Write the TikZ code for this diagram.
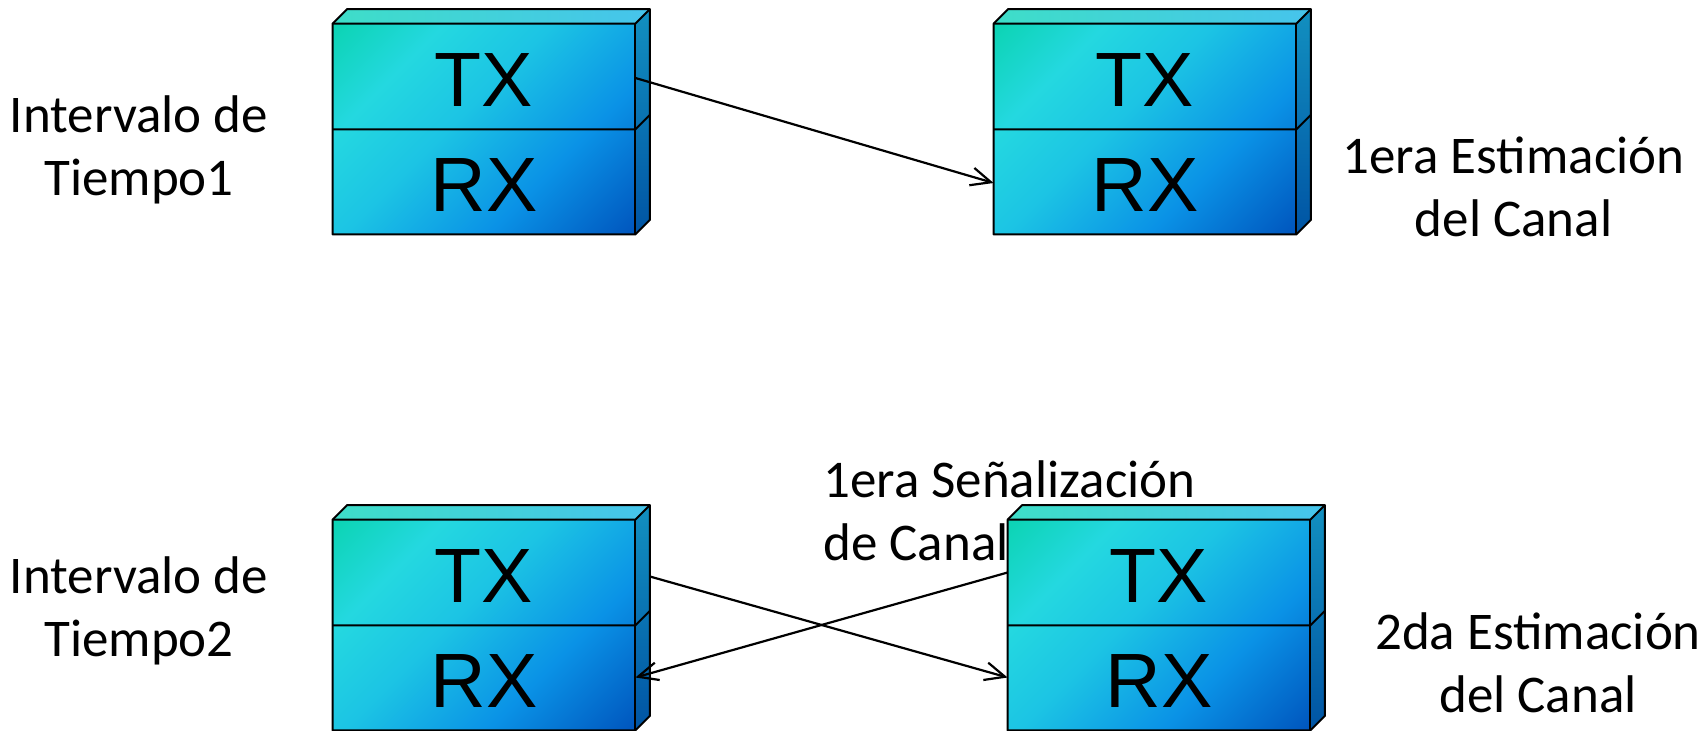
\documentclass[tikz,border=0pt]{standalone}
\usepackage{fontspec}
\setmainfont{Carlito}
\newfontfamily\arialf{Liberation Sans}
\usetikzlibrary{arrows.meta,calc,backgrounds}
\definecolor{cA}{HTML}{0CD4B4}
\definecolor{cB2}{HTML}{24D8E0}
\definecolor{cB}{HTML}{1CC4E4}
\definecolor{cC}{HTML}{0A92E6}
\definecolor{cD}{HTML}{0056BE}
\definecolor{topL}{HTML}{3EDEC8}
\definecolor{topR}{HTML}{46C4EC}
\definecolor{sideT}{HTML}{1290C0}
\definecolor{sideB}{HTML}{0054A4}
\pgfdeclareverticalshading{frontsh}{100bp}{color(0bp)=(cD); color(15bp)=(cD); color(35bp)=(cC); color(55bp)=(cB); color(70bp)=(cB2); color(85bp)=(cA); color(100bp)=(cA)}
\newcommand{\boxfaces}[1]{%
 \shade[shading=frontsh,shading angle=45] (#1tx.north west) rectangle (#1rx.south east);
 \shade[left color=topL,right color=topR] (#1tx.north west) -- ++(14.5,-14.5) -- ($(#1tx.north east)+(14.5,-14.5)$) -- (#1tx.north east) -- cycle;
 \shade[top color=sideT,bottom color=sideB] (#1tx.north east) -- ++(14.5,-14.5) -- ($(#1rx.south east)+(14.5,-14.5)$) -- (#1rx.south east) -- cycle;
 \draw[face] (#1tx.north west) -- ++(14.5,-14.5) -- ($(#1tx.north east)+(14.5,-14.5)$) -- ($(#1rx.south east)+(14.5,-14.5)$) -- (#1rx.south east) -- (#1rx.south west) -- cycle;
 \draw[face] (#1tx.north west) -- (#1tx.north east) -- ++(14.5,-14.5);
 \draw[face] (#1tx.north east) -- (#1rx.south east);
 \draw[face] (#1tx.south west) -- (#1tx.south east) -- ++(14.5,-14.5);
}
\begin{document}
\begin{tikzpicture}[x=0.5pt,y=-0.5pt,
 cell/.style={minimum width=151pt,minimum height=52.5pt,inner sep=0pt,text height=30.4pt,text depth=0pt,font=\arialf\fontsize{38.5}{40}\selectfont},
 lbl/.style={font=\fontsize{26.5}{31.5}\selectfont,inner sep=0pt,align=center,anchor=base},
 face/.style={draw=black,line width=1pt,line join=round},
 arr/.style={line width=1.1pt,-{Straight Barb[length=10pt,width=9pt]}}]
\useasboundingbox (0,0) rectangle (1707,731);
% boxes
\node[cell] (b1tx) at (484,76.5) {TX};
\node[cell] (b1rx) at (484,181.5) {RX};
\node[cell] (b2tx) at (1145,76.5) {TX};
\node[cell] (b2rx) at (1145,181.5) {RX};
\node[cell] (b3tx) at (484,572.5) {TX};
\node[cell] (b3rx) at (484,677.5) {RX};
\node[cell] (b4tx) at (1159,572.5) {TX};
\node[cell] (b4rx) at (1159,677.5) {RX};
\begin{scope}[on background layer]
\fill[white] (0,0) rectangle (1707,731);
\boxfaces{b1}
\boxfaces{b2}
\boxfaces{b3}
\boxfaces{b4}
\end{scope}
% labels
\node[lbl] (l1) at (139,196) {Intervalo de\\Tiempo1};
\node[lbl] (l2) at (1513.5,237) {1era Estimación\\del Canal};
\node[lbl] (l3) at (139,656) {Intervalo de\\Tiempo2};
\node[lbl] (l4) at (1538,712) {2da Estimación\\del Canal};
\node[lbl,align=left,anchor=base west] (l5) at (823,560) {1era Señalización\\de Canal};
% arrows
\draw[arr] ($(b1tx.east)+(0,1.5)$) -- ($(b2rx.west)+(0,1.5)$);
\draw[arr] ($(b3tx.east)+(14.5,4)$) -- (b4rx.west);
\draw[arr] (b4tx.west) -- (b3rx.east);
\end{tikzpicture}
\end{document}
